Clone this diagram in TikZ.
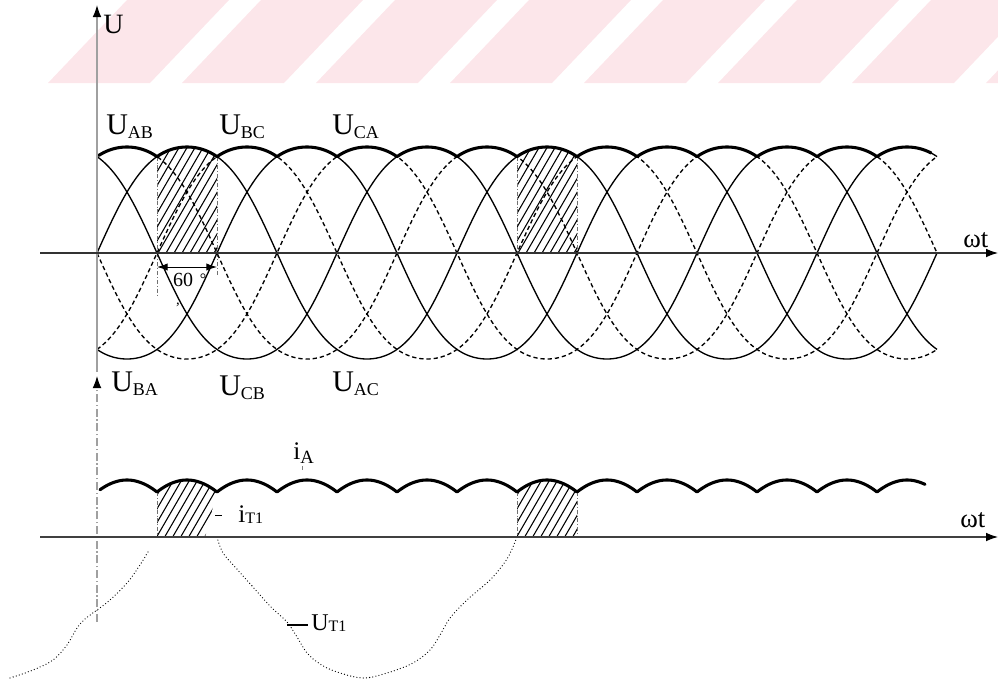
\documentclass[tikz,border=0pt]{standalone}
\usepackage{fontspec}
\setmainfont{Liberation Serif}
\usetikzlibrary{arrows.meta}
\definecolor{wm}{RGB}{252,230,234}
\definecolor{axgray}{RGB}{160,160,160}
\newcommand{\lsub}[1]{\raisebox{-3pt}{\fontsize{13.5}{14}\selectfont #1}}
\begin{document}
\begin{tikzpicture}[x=0.75pt,y=-0.75pt,
  declare function={gsh(\s)=\s*(1.2-0.2*\s*\s);
    envu(\t)=max(abs(sin(\t-97)),abs(sin(\t-157)),abs(sin(\t-217)));
    envi(\t)=max(abs(cos(\t-127)),abs(cos(\t-187)),abs(cos(\t-247)));},
  wave/.style={line width=1pt},
  dwave/.style={line width=1pt,dash pattern=on 3.2pt off 2.2pt},
  envl/.style={line width=2.3pt,line join=round,line cap=round},
  hatchl/.style={line width=0.8pt},
  edgel/.style={line width=0.6pt,axgray!70!black,dash pattern=on 3pt off 1.5pt on 0.6pt off 1.5pt},
  dotl/.style={line width=0.95pt,line cap=round,dash pattern=on 0pt off 2.4pt},
  tipk/.style={-{Latex[length=9pt,width=6.5pt,color=black]}},
  lab/.style={font=\fontsize{22.5}{26}\selectfont,inner sep=0pt,anchor=base west},
]
\useasboundingbox (0,0) rectangle (998,682);
% watermark
\begin{scope}
\clip (0,0) rectangle (998,83);
\foreach \k in {0,...,7}
  \fill[wm] ({48+134*\k},83) -- ({150+134*\k},83) -- ({229+134*\k},0) -- ({127+134*\k},0) -- cycle;
\end{scope}
% top hatches
\begin{scope}
\clip plot[domain=157:217,samples=61] (\x,{253-106*gsh(envu(\x))}) -- (217,253) -- (157,253) -- cycle;
\foreach \k in {0,...,17} \draw[hatchl] ({90+8*\k},260) -- ++(70,-121);
\end{scope}
\begin{scope}
\clip plot[domain=517:577,samples=61] (\x,{253-106*gsh(envu(\x))}) -- (577,253) -- (517,253) -- cycle;
\foreach \k in {0,...,17} \draw[hatchl] ({450+8*\k},260) -- ++(70,-121);
\end{scope}
% bottom hatches
\begin{scope}
\clip plot[domain=157:217,samples=61] (\x,{480+12*(1-envi(\x))/0.133975}) -- (205,537) -- (157,537) -- cycle;
\foreach \k in {0,...,12} \draw[hatchl] ({120+8*\k},545) -- ++(40,-69);
\end{scope}
\begin{scope}
\clip plot[domain=517:577,samples=61] (\x,{480+12*(1-envi(\x))/0.133975}) -- (577,537) -- (517,537) -- cycle;
\foreach \k in {0,...,12} \draw[hatchl] ({480+8*\k},545) -- ++(40,-69);
\end{scope}
% hatch edges
\coordinate (h1a) at (157,156.6); \coordinate (h1b) at (157,297);
\coordinate (h1c) at (217,156.6); \coordinate (h1d) at (217,277);
\coordinate (h2a) at (517,156.6); \coordinate (h2b) at (517,256);
\coordinate (h2c) at (577,156.6); \coordinate (h2d) at (577,256);
\draw[edgel] (h1a) -- (h1b); \draw[edgel] (h1c) -- (h1d);
\draw[edgel] (h2a) -- (h2b); \draw[edgel] (h2c) -- (h2d);
\coordinate (b1a) at (157,492); \coordinate (b1b) at (157,537);
\coordinate (b2a) at (517,492); \coordinate (b2b) at (517,537);
\coordinate (b2c) at (577,492); \coordinate (b2d) at (577,537);
\draw[edgel] (b1a) -- (b1b); \draw[edgel] (b2a) -- (b2b); \draw[edgel] (b2c) -- (b2d);
% line voltages
\draw[wave]  plot[domain=97:937,samples=421] (\x,{253-106*gsh(sin(\x+23))});
\draw[wave]  plot[domain=97:937,samples=421] (\x,{253-106*gsh(sin(\x-97))});
\draw[wave]  plot[domain=97:937,samples=421] (\x,{253-106*gsh(sin(\x-217))});
\draw[dwave] plot[domain=97:937,samples=421] (\x,{253-106*gsh(sin(\x-157))});
\draw[dwave] plot[domain=97:937,samples=421] (\x,{253-106*gsh(sin(\x-37))});
\draw[dwave] plot[domain=97:937,samples=421] (\x,{253-106*gsh(sin(\x-277))});
% envelope
\draw[envl] plot[domain=99:931,samples=833] (\x,{253-106*gsh(envu(\x))});
% current envelope
\draw[envl] plot[domain=100:925,samples=826] (\x,{480+12*(1-envi(\x))/0.133975});
% U_T1 dotted
\draw[dotl] plot[smooth,tension=0.55] coordinates {(217,537) (223,553) (236,568) (253,587) (270,606) (287,622) (297,637) (307,653) (320,664) (337,672) (363,678) (387,673) (413,663) (430,650) (440,635) (450,618) (467,600) (490,580) (505,562) (512,549) (517,537)};
\draw[dotl] plot[smooth,tension=0.55] coordinates {(148,552) (138,568) (127,583) (110,600) (97,610) (85,619) (77,628) (67,645) (53,660) (33,670) (10,678)};
% axes
\coordinate (yb) at (97,372); \coordinate (yt) at (97,5);
\draw[line width=1pt,axgray,tipk] (yb) -- (yt);
\coordinate (y2b) at (97,622); \coordinate (y2t) at (97,376);
\draw[line width=0.8pt,axgray,dash pattern=on 6pt off 2pt on 1pt off 2pt,tipk] (y2b) -- (y2t);
\coordinate (x1l) at (40,253); \coordinate (x1r) at (998,253);
\draw[line width=0.8pt,black!80,tipk] (x1l) -- (x1r);
\coordinate (x2l) at (40,537); \coordinate (x2r) at (998,537);
\draw[line width=0.8pt,black!75,tipk] (x2l) -- (x2r);
% 60 degree dimension
\coordinate (d1) at (157,267); \coordinate (d2) at (217,267);
\draw[line width=0.7pt,{Latex[length=8pt,width=5.5pt]}-{Latex[length=8pt,width=5.5pt]}] (d1) -- (d2);
\node[inner sep=0pt,font=\fontsize{15}{17}\selectfont] (sixty) at (183,280) {60};
\node[inner sep=0pt,font=\fontsize{12}{14}\selectfont] (deg) at (203,279) {°};
\node[inner sep=0pt,font=\fontsize{11}{12}\selectfont] (cm) at (178,305) {,};
% labels
\node[lab,font=\fontsize{21}{24}\selectfont] (uax) at (103,33) {U};
\node[lab] (uab) at (106,134) {U\lsub{AB}};
\node[lab] (ubc) at (219,134) {U\lsub{BC}};
\node[lab] (uca) at (332,134) {U\lsub{CA}};
\node[lab] (uba) at (111,391) {U\lsub{BA}};
\node[lab] (ucb) at (219,395) {U\lsub{CB}};
\node[lab] (uac) at (332,391) {U\lsub{AC}};
\node[lab,font=\fontsize{20}{24}\selectfont] (wt1) at (963,247) {ωt};
\node[lab,font=\fontsize{20}{24}\selectfont] (wt2) at (960,527) {ωt};
\node[lab,font=\fontsize{19}{21}\selectfont] (ia) at (293,459) {i\raisebox{-3pt}{\fontsize{14}{15}\selectfont A}};
\node[lab,font=\fontsize{19}{21}\selectfont] (it1) at (238,522) {i\raisebox{-1pt}{\fontsize{12}{13}\selectfont T1}};
\node[lab,font=\fontsize{18}{20}\selectfont] (ut1) at (311,630) {U\raisebox{-1pt}{\fontsize{12}{13}\selectfont T1}};
% leaders
\coordinate (la1) at (302,466); \coordinate (la2) at (302,470);
\draw[line width=0.5pt,gray] (la1) -- (la2);
\coordinate (lt1) at (215,515); \coordinate (lt2) at (222,515);
\draw[line width=0.6pt] (lt1) -- (lt2);
\coordinate (lu1) at (287,625); \coordinate (lu2) at (308,625);
\draw[line width=0.8pt] (lu1) -- (lu2);
\end{tikzpicture}
\end{document}
